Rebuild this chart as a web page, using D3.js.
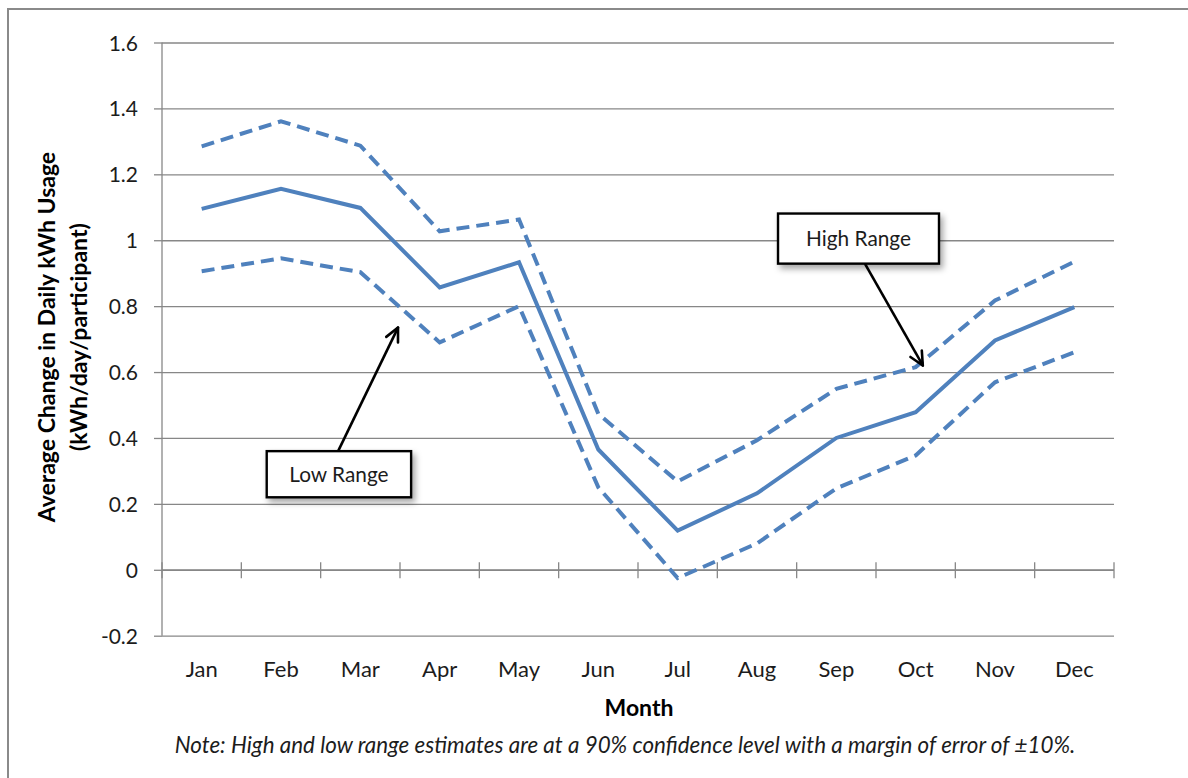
<!DOCTYPE html>
<html>
<head>
<meta charset="utf-8">
<script src="https://cdn.jsdelivr.net/npm/d3@7"></script>
<style>
  html, body { margin: 0; padding: 0; background: #fff; }
  svg { display: block; font-family: Lato, "Open Sans", sans-serif; }
</style>
</head>
<body>
<svg id="chart" width="1188" height="778"></svg>
<script>
// Monthly categories
const months = ["Jan", "Feb", "Mar", "Apr", "May", "Jun", "Jul", "Aug", "Sep", "Oct", "Nov", "Dec"];

// Average change in daily kWh usage per participant
const average = [1.095, 1.156, 1.098, 0.857, 0.933, 0.365, 0.119, 0.232, 0.400, 0.478, 0.696, 0.797];
// Upper bound of the 90% confidence interval
const highRange = [1.285, 1.361, 1.287, 1.027, 1.063, 0.473, 0.268, 0.393, 0.549, 0.615, 0.817, 0.935];
// Lower bound of the 90% confidence interval
const lowRange = [0.906, 0.945, 0.903, 0.690, 0.800, 0.250, -0.025, 0.080, 0.247, 0.347, 0.569, 0.660];

// Value axis ticks
const yTicks = [-0.2, 0, 0.2, 0.4, 0.6, 0.8, 1, 1.2, 1.4, 1.6];

const svg = d3.select("#chart");
const W = 1188, H = 778;
const plot = { left: 162, right: 1114, top: 42.5, bottom: 635.7 };

const blue = "#4F81BD";
const gridColor = "#878787";
const textColor = "#1c1c1c";

// Outer chart frame
svg.append("rect")
  .attr("x", 8).attr("y", 9)
  .attr("width", W + 20).attr("height", H + 20)
  .attr("fill", "#fff")
  .attr("stroke", "#8a8a8a").attr("stroke-width", 2);

// Drop shadow for the callout boxes
const defs = svg.append("defs");
const shadow = defs.append("filter").attr("id", "boxShadow")
  .attr("x", "-20%").attr("y", "-30%").attr("width", "150%").attr("height", "180%");
shadow.append("feDropShadow")
  .attr("dx", 3).attr("dy", 4).attr("stdDeviation", 3)
  .attr("flood-color", "#000").attr("flood-opacity", 0.35);

const x = d3.scaleBand().domain(months).range([plot.left, plot.right]);
const xc = m => x(m) + x.bandwidth() / 2;
// Continuous position along the month axis (index units) for annotations
const xi = d3.scaleLinear().domain([-0.5, months.length - 0.5]).range([plot.left, plot.right]);
const y = d3.scaleLinear().domain([-0.2, 1.6]).range([plot.bottom, plot.top]);

// Horizontal gridlines across the plot area
const grid = svg.append("g")
  .attr("transform", `translate(${plot.left},0)`)
  .call(d3.axisLeft(y).tickValues(yTicks).tickSize(-(plot.right - plot.left)).tickFormat(""));
grid.select(".domain").remove();
grid.selectAll(".tick line").attr("stroke", gridColor).attr("stroke-width", 1.3);

// Value axis with outside tick marks and labels
const gy = svg.append("g")
  .attr("transform", `translate(${plot.left},0)`)
  .call(d3.axisLeft(y)
    .tickValues(yTicks)
    .tickSize(8)
    .tickPadding(16)
    .tickFormat(d => String(+d.toFixed(1))));
gy.select(".domain")
  .attr("d", `M0,${plot.top}V${plot.bottom}`)
  .attr("stroke", gridColor).attr("stroke-width", 1.3);
gy.selectAll(".tick line").attr("stroke", gridColor).attr("stroke-width", 1.3);
gy.selectAll(".tick text")
  .attr("fill", textColor)
  .style("font-size", "21px")
  .style("font-family", "Lato, sans-serif")
  .attr("dy", "0.36em");

// Category axis crossing at zero, with cross tick marks at band edges
const gx = svg.append("g").attr("transform", `translate(0,${y(0)})`);
gx.append("line")
  .attr("x1", plot.left).attr("x2", plot.right)
  .attr("stroke", gridColor).attr("stroke-width", 1.3);
const edges = months.map(m => x(m)).concat([plot.right]);
gx.selectAll("line.tick")
  .data(edges)
  .join("line")
  .attr("class", "tick")
  .attr("x1", d => d).attr("x2", d => d)
  .attr("y1", -7.5).attr("y2", 8.5)
  .attr("stroke", gridColor).attr("stroke-width", 1.3);

// Month labels below the plot area
svg.append("g")
  .selectAll("text")
  .data(months)
  .join("text")
  .attr("x", d => xc(d))
  .attr("y", 669)
  .attr("dy", "0.36em")
  .attr("text-anchor", "middle")
  .attr("fill", textColor)
  .style("font-size", "22px")
  .text(d => d);

// Series lines
const line = d3.line()
  .x((d, i) => xc(months[i]))
  .y(d => y(d));

svg.append("path")
  .datum(highRange)
  .attr("d", line)
  .attr("fill", "none")
  .attr("stroke", blue).attr("stroke-width", 4)
  .attr("stroke-dasharray", "13,7");

svg.append("path")
  .datum(lowRange)
  .attr("d", line)
  .attr("fill", "none")
  .attr("stroke", blue).attr("stroke-width", 4)
  .attr("stroke-dasharray", "13,7");

svg.append("path")
  .datum(average)
  .attr("d", line)
  .attr("fill", "none")
  .attr("stroke", blue).attr("stroke-width", 4)
  .attr("stroke-linejoin", "miter");

// Axis titles
const yTitle = svg.append("text")
  .attr("transform", `translate(63,${(plot.top + plot.bottom) / 2 - 2}) rotate(-90)`)
  .attr("text-anchor", "middle")
  .attr("fill", "#000")
  .style("font-size", "23px")
  .style("font-weight", "bold");
yTitle.append("tspan").attr("x", 0).attr("y", -16).attr("dy", "0.36em").text("Average Change in Daily kWh Usage");
yTitle.append("tspan").attr("x", 0).attr("y", 16).attr("dy", "0.36em").text("(kWh/day/participant)");

svg.append("text")
  .attr("x", 639).attr("y", 708)
  .attr("dy", "0.36em")
  .attr("text-anchor", "middle")
  .attr("fill", "#000")
  .style("font-size", "23px")
  .style("font-weight", "bold")
  .text("Month");

// Footnote
svg.append("text")
  .attr("x", 625).attr("y", 745)
  .attr("dy", "0.36em")
  .attr("text-anchor", "middle")
  .attr("fill", textColor)
  .style("font-size", "22.4px")
  .style("font-style", "italic")
  .text("Note: High and low range estimates are at a 90% confidence level with a margin of error of \u00B110%.");

// Callouts: box in index/value units, arrow from box edge to the target on the chart
const callouts = [
  { label: "High Range", box: [7.265, 9.294, 1.081, 0.929], from: [8.36, 0.929], to: [9.09, 0.62] },
  { label: "Low Range",  box: [0.82, 2.64, 0.360, 0.220],  from: [1.72, 0.360], to: [2.475, 0.735] }
];

const arrowLayer = svg.append("g");
callouts.forEach(c => {
  const x0 = xi(c.from[0]), y0 = y(c.from[1]);
  const x1 = xi(c.to[0]), y1 = y(c.to[1]);
  arrowLayer.append("line")
    .attr("x1", x0).attr("y1", y0).attr("x2", x1).attr("y2", y1)
    .attr("stroke", "#000").attr("stroke-width", 2.6);
  // Open arrowhead
  const ang = Math.atan2(y1 - y0, x1 - x0);
  const len = 15, spread = 0.45;
  [ang + Math.PI - spread, ang + Math.PI + spread].forEach(a => {
    arrowLayer.append("line")
      .attr("x1", x1).attr("y1", y1)
      .attr("x2", x1 + len * Math.cos(a)).attr("y2", y1 + len * Math.sin(a))
      .attr("stroke", "#000").attr("stroke-width", 2.6)
      .attr("stroke-linecap", "round");
  });

  const bx = xi(c.box[0]), bx2 = xi(c.box[1]);
  const by = y(c.box[2]), by2 = y(c.box[3]);
  const g = svg.append("g");
  g.append("rect")
    .attr("x", bx).attr("y", by)
    .attr("width", bx2 - bx).attr("height", by2 - by)
    .attr("fill", "#fff")
    .attr("stroke", "#000").attr("stroke-width", 2.4)
    .attr("filter", "url(#boxShadow)");
  g.append("text")
    .attr("x", (bx + bx2) / 2).attr("y", (by + by2) / 2)
    .attr("dy", "0.36em")
    .attr("text-anchor", "middle")
    .attr("fill", textColor)
    .style("font-size", "20.8px")
    .text(c.label);
});
</script>
</body>
</html>
